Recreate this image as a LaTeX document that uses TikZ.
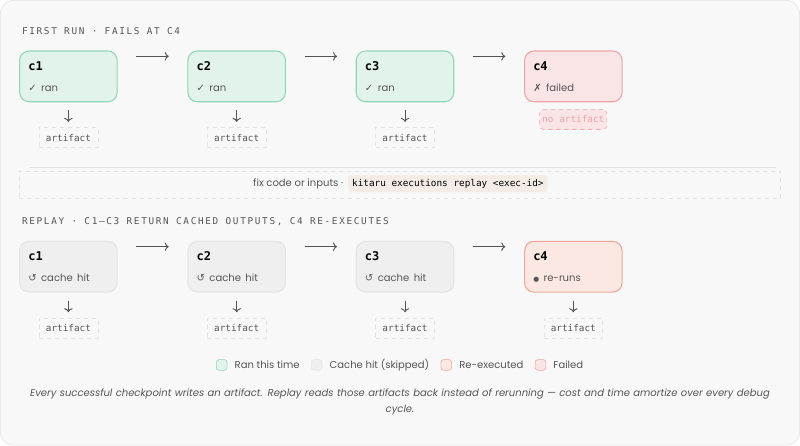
\documentclass[tikz,border=0pt]{standalone}
\usepackage{fontspec}
\setmainfont{Poppins}
\setmonofont{DejaVu Sans Mono}
\newfontfamily\symfont{DejaVu Sans}
\newfontfamily\headfont[LetterSpace=18]{DejaVu Sans Mono}
\usetikzlibrary{positioning, arrows.meta}
\definecolor{bgpage}{HTML}{F8F8F8}
\definecolor{frameline}{HTML}{E2E2E2}
\definecolor{ranfill}{HTML}{E2F3EC}
\definecolor{randraw}{HTML}{8ED8B8}
\definecolor{cachefill}{HTML}{EFEFEF}
\definecolor{cachedraw}{HTML}{E4E4E4}
\definecolor{failfill}{HTML}{F9E4E6}
\definecolor{faildraw}{HTML}{EDA5A8}
\definecolor{refill}{HTML}{FBE8E2}
\definecolor{redraw}{HTML}{EDA898}
\definecolor{inkgrey}{HTML}{555555}
\definecolor{codefill}{HTML}{F3EDE6}
\begin{document}
\begin{tikzpicture}[
	x=0.75pt, y=-0.75pt,
	checkpoint/.style={rectangle, rounded corners=7pt, draw, line width=0.8pt, minimum width=73pt, minimum height=38pt, align=left, text width=60pt, inner sep=0pt},
	ran/.style={checkpoint, fill=ranfill, draw=randraw},
	cache/.style={checkpoint, fill=cachefill, draw=cachedraw},
	failed/.style={checkpoint, fill=failfill, draw=faildraw},
	rerun/.style={checkpoint, fill=refill, draw=redraw},
	artifact/.style={draw=frameline, dashed, fill=bgpage, font=\ttfamily\fontsize{7}{8}\selectfont, text=inkgrey, minimum width=44pt, minimum height=15pt, inner sep=2pt},
	heading/.style={anchor=west, font=\headfont\fontsize{7}{8}\selectfont, text=inkgrey},
	arrow/.style={-{To[length=3pt]}, draw=inkgrey, line width=0.7pt},
	legend/.style={rectangle, rounded corners=2pt, draw, minimum size=8pt, inner sep=0pt}
	]
	\newcommand{\stepbox}[2]{{\ttfamily\bfseries\fontsize{9}{10}\selectfont #1}\\[4pt]{\fontsize{7.5}{9}\selectfont\color{inkgrey}#2}}

	% Frame
	\draw[frameline, fill=bgpage, rounded corners=10pt] (1,1) rectangle (799,445);

	% First run
	\node[heading] (title1) at (18,32) {FIRST RUN · FAILS AT C4};
	\node[ran] (a1) at (69,77) {\stepbox{c1}{{\symfont ✓} ran}};
	\node[ran] (a2) at (237,77) {\stepbox{c2}{{\symfont ✓} ran}};
	\node[ran] (a3) at (405,77) {\stepbox{c3}{{\symfont ✓} ran}};
	\node[failed] (a4) at (573,77) {\stepbox{c4}{{\symfont ✗} failed}};
	\node[artifact] (f1) at (69,138) {artifact};
	\node[artifact] (f2) at (237,138) {artifact};
	\node[artifact] (f3) at (405,138) {artifact};
	\node[artifact, draw=faildraw, fill=failfill, text=faildraw, rounded corners=3pt] (f4) at (573,120) {no artifact};

	% Arrows
	\foreach \i/\j in {1/2, 2/3, 3/4} {
		\draw[arrow] ([xshift=14pt, yshift=15pt]a\i.east) -- ([xshift=-14pt, yshift=15pt]a\j.west);
	}
	\foreach \i in {1,2,3} {
		\draw[arrow] ([yshift=-6pt]a\i.south) -- ([yshift=4pt]f\i.north);
	}

	% Fix step
	\draw[frameline] (30,168) -- (775,168);
	\node[draw=frameline, dashed, minimum width=570pt, minimum height=20pt] (fix) at (400,185) {};
	\node[font=\fontsize{7.5}{9}\selectfont, text=inkgrey, anchor=east] (fixtext) at (348,184) {fix code or inputs ·};
	\node[fill=codefill, rounded corners=2pt, font=\ttfamily\fontsize{7}{8}\selectfont, anchor=west, inner sep=3pt] (cmd) at (fixtext.east) {kitaru executions replay <exec-id>};

	% Replay
	\node[heading] (title2) at (18,222) {REPLAY · C1–C3 RETURN CACHED OUTPUTS, C4 RE-EXECUTES};
	\node[cache] (b1) at (69,267) {\stepbox{c1}{{\symfont ↺} cache hit}};
	\node[cache] (b2) at (237,267) {\stepbox{c2}{{\symfont ↺} cache hit}};
	\node[cache] (b3) at (405,267) {\stepbox{c3}{{\symfont ↺} cache hit}};
	\node[rerun] (b4) at (573,267) {\stepbox{c4}{{\symfont\fontsize{5}{6}\selectfont ●} re-runs}};
	\foreach \i in {1,...,4} {
		\node[artifact] (g\i) at (69+168*\i-168,328) {artifact};
		\draw[arrow] ([yshift=-6pt]b\i.south) -- ([yshift=4pt]g\i.north);
	}
	\foreach \i/\j in {1/2, 2/3, 3/4} {
		\draw[arrow] ([xshift=14pt, yshift=15pt]b\i.east) -- ([xshift=-14pt, yshift=15pt]b\j.west);
	}

	% Legend
	\node[legend, fill=ranfill, draw=randraw] (k1) at (222,365) {};
	\node[font=\fontsize{7.5}{9}\selectfont, text=inkgrey, right=2pt of k1] (l1) {Ran this time};
	\node[legend, fill=cachefill, draw=cachedraw, right=5pt of l1] (k2) {};
	\node[font=\fontsize{7.5}{9}\selectfont, text=inkgrey, right=2pt of k2] (l2) {Cache hit (skipped)};
	\node[legend, fill=refill, draw=redraw, right=5pt of l2] (k3) {};
	\node[font=\fontsize{7.5}{9}\selectfont, text=inkgrey, right=2pt of k3] (l3) {Re-executed};
	\node[legend, fill=failfill, draw=faildraw, right=5pt of l3] (k4) {};
	\node[font=\fontsize{7.5}{9}\selectfont, text=inkgrey, right=2pt of k4] (l4) {Failed};

	% Caption
	\node[font=\itshape\fontsize{7.5}{12}\selectfont, text=inkgrey, align=center, text width=572pt] (caption) at (400,402) {Every successful checkpoint writes an artifact. Replay reads those artifacts back instead of rerunning — cost and time amortize over every debug \mbox{cycle.}};
\end{tikzpicture}
\end{document}
